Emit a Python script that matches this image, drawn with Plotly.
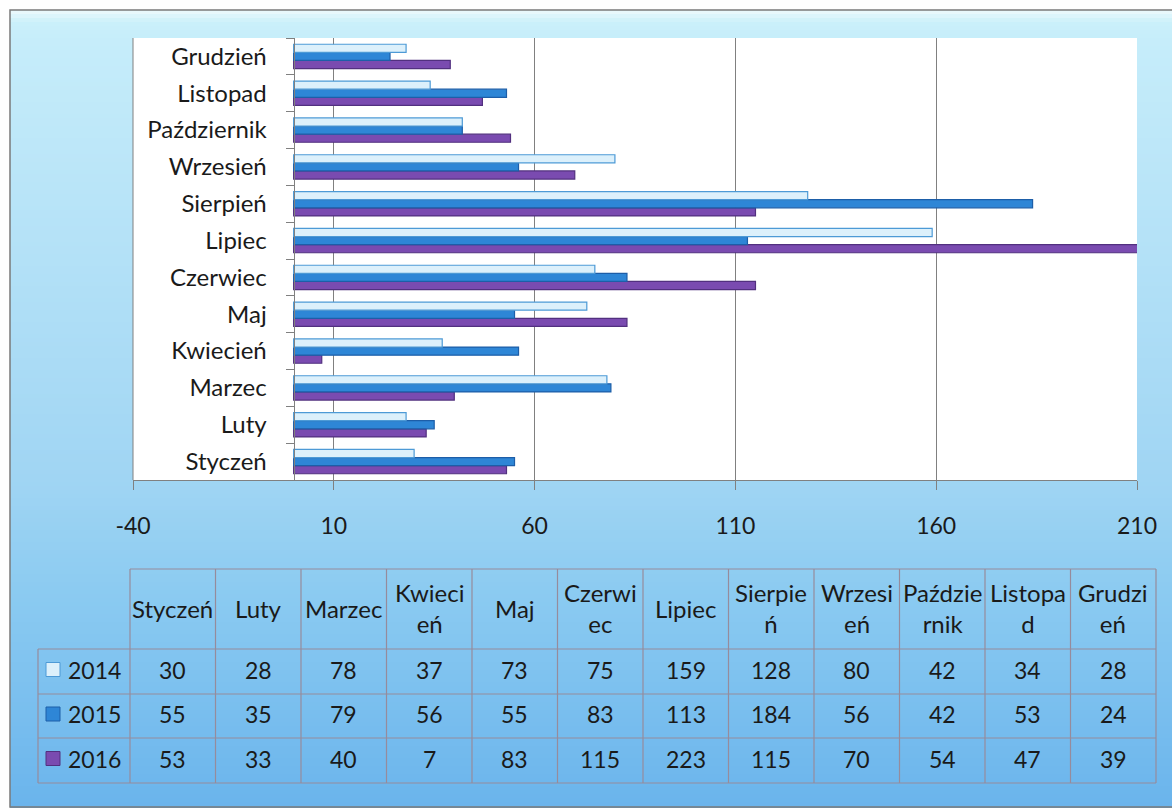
import plotly.graph_objects as go

# ---------------- data ----------------
months = ["Styczeń", "Luty", "Marzec", "Kwiecień", "Maj", "Czerwiec",
          "Lipiec", "Sierpień", "Wrzesień", "Październik", "Listopad", "Grudzień"]
header_labels = ["Styczeń", "Luty", "Marzec", "Kwieci<br>eń", "Maj", "Czerwi<br>ec",
                 "Lipiec", "Sierpie<br>ń", "Wrzesi<br>eń", "Paździe<br>rnik", "Listopa<br>d", "Grudzi<br>eń"]
years = ["2014", "2015", "2016"]
v2014 = [30, 28, 78, 37, 73, 75, 159, 128, 80, 42, 34, 28]
v2015 = [55, 35, 79, 56, 55, 83, 113, 184, 56, 42, 53, 24]
v2016 = [53, 33, 40, 7, 83, 115, 223, 115, 70, 54, 47, 39]
x_ticks = [-40, 10, 60, 110, 160, 210]

# ---------------- styling ----------------
FONT = "Lato, Carlito, Calibri, 'Liberation Sans', sans-serif"
TXT = "#1a1a1a"
GRID = "#808080"
fills = {"2014": "#dcf0fb", "2015": "#2e86d6", "2016": "#7a4bb0"}
edges = {"2014": "#4d9ad6", "2015": "#1d5ea8", "2016": "#52307f"}

W_PX, H_PX = 1172, 808
L, R, T, B = 133, 1137, 38, 480
PW, PH = R - L, B - T


def xp(px):
    return (px - L) / PW


def yp(py):
    return (B - py) / PH


fig = go.Figure()
series = {"2014": v2014, "2015": v2015, "2016": v2016}
for yr in ["2016", "2015", "2014"]:
    fig.add_trace(go.Bar(
        y=months, x=series[yr], orientation="h", name=yr,
        marker=dict(color=fills[yr], line=dict(color=edges[yr], width=1.2)),
        showlegend=False, hoverinfo="x+y+name",
    ))

shapes = []
# background gradient (frame)
stops = [(10, (238, 250, 253)), (22, (203, 240, 250)), (40, (198, 237, 250)),
         (200, (184, 228, 248)), (480, (160, 213, 243)), (600, (138, 202, 241)),
         (808, (106, 180, 236))]


def col_at(py):
    for (y0, c0), (y1, c1) in zip(stops[:-1], stops[1:]):
        if y0 <= py <= y1:
            t = (py - y0) / (y1 - y0)
            c = [round(a + (b - a) * t) for a, b in zip(c0, c1)]
            return "rgb(%d,%d,%d)" % tuple(c)
    return "rgb(%d,%d,%d)" % stops[-1][1]


step = 4
for py in range(10, H_PX, step):
    shapes.append(dict(type="rect", xref="paper", yref="paper", layer="below",
                       x0=xp(10), x1=xp(W_PX + 5), y0=yp(py + step + 0.5), y1=yp(py),
                       fillcolor=col_at(py + step / 2), line=dict(width=0)))
# frame border
shapes.append(dict(type="rect", xref="paper", yref="paper", layer="below",
                   x0=xp(10), x1=xp(W_PX + 5), y0=yp(H_PX - 1), y1=yp(10),
                   fillcolor="rgba(0,0,0,0)", line=dict(color="#7a7a7a", width=1.5)))
# white plot area
shapes.append(dict(type="rect", xref="paper", yref="paper", layer="below",
                   x0=0, x1=1, y0=0, y1=1, fillcolor="white", line=dict(width=0)))
# left border of plot area
shapes.append(dict(type="line", xref="paper", yref="paper", layer="above",
                   x0=0, x1=0, y0=0, y1=1, line=dict(color=GRID, width=1)))

# ---------------- data table ----------------
tbl_left, first_col = 38, 130
col_w = (1156 - first_col) / 12
row_y = [569, 649, 694, 738, 783]
tcol = "#968b9c"
col_x = [first_col + i * col_w for i in range(13)]

shapes.append(dict(type="line", xref="paper", yref="paper", x0=xp(first_col), x1=xp(col_x[-1]),
                   y0=yp(row_y[0]), y1=yp(row_y[0]), line=dict(color=tcol, width=1.2)))
for ry in row_y[1:]:
    shapes.append(dict(type="line", xref="paper", yref="paper", x0=xp(tbl_left), x1=xp(col_x[-1]),
                       y0=yp(ry), y1=yp(ry), line=dict(color=tcol, width=1.2)))
shapes.append(dict(type="line", xref="paper", yref="paper", x0=xp(tbl_left), x1=xp(tbl_left),
                   y0=yp(row_y[1]), y1=yp(row_y[-1]), line=dict(color=tcol, width=1.2)))
for cx in col_x:
    shapes.append(dict(type="line", xref="paper", yref="paper", x0=xp(cx), x1=xp(cx),
                       y0=yp(row_y[0]), y1=yp(row_y[-1]), line=dict(color=tcol, width=1.2)))

annotations = []
HFS = 24
DFS = 23
for i, lab in enumerate(header_labels):
    annotations.append(dict(xref="paper", yref="paper", x=xp(col_x[i] + col_w / 2),
                            y=yp((row_y[0] + row_y[1]) / 2 - 1), text=lab, showarrow=False,
                            xanchor="center", yanchor="middle",
                            font=dict(family=FONT, size=HFS, color=TXT)))
for r, yr in enumerate(years):
    cy = (row_y[r + 1] + row_y[r + 2]) / 2 - 2
    shapes.append(dict(type="rect", xref="paper", yref="paper",
                       x0=xp(46), x1=xp(60), y0=yp(cy + 7), y1=yp(cy - 7),
                       fillcolor=fills[yr], line=dict(color=edges[yr], width=1)))
    annotations.append(dict(xref="paper", yref="paper", x=xp(66), y=yp(cy), text=yr,
                            showarrow=False, xanchor="left", yanchor="middle",
                            font=dict(family=FONT, size=DFS, color=TXT)))
    for i, v in enumerate(series[yr]):
        annotations.append(dict(xref="paper", yref="paper", x=xp(col_x[i] + col_w / 2),
                                y=yp(cy), text=str(v), showarrow=False,
                                xanchor="center", yanchor="middle",
                                font=dict(family=FONT, size=DFS, color=TXT)))

fig.update_layout(
    width=W_PX, height=H_PX,
    margin=dict(l=L, r=W_PX - R, t=T, b=H_PX - B, pad=0, autoexpand=False),
    paper_bgcolor="white", plot_bgcolor="white",
    barmode="group", bargap=0.34, bargroupgap=0.0,
    font=dict(family=FONT, color=TXT),
    shapes=shapes, annotations=annotations,
    xaxis=dict(range=[x_ticks[0], x_ticks[-1]], tickmode="array", tickvals=x_ticks,
               ticktext=[str(t) for t in x_ticks],
               showgrid=True, gridcolor=GRID, gridwidth=1, zeroline=False,
               showline=True, linecolor=GRID, linewidth=1.2,
               ticks="outside", ticklen=9, tickcolor=GRID, ticklabelstandoff=16,
               tickfont=dict(family=FONT, size=23, color=TXT), fixedrange=True),
    yaxis=dict(type="category", categoryorder="array", categoryarray=months,
               anchor="free", position=(0 - x_ticks[0]) / (x_ticks[-1] - x_ticks[0]),
               showline=True, linecolor=GRID, linewidth=1.2, showgrid=False,
               ticks="outside", tickson="boundaries", ticklen=8, tickcolor=GRID,
               ticklabelstandoff=22,
               tickfont=dict(family=FONT, size=24, color=TXT), fixedrange=True),
)

fig.write_html(
    "out.html",
    config=dict(displayModeBar=False),
    post_script="document.body.style.margin='0';document.body.style.overflow='hidden';",
)
